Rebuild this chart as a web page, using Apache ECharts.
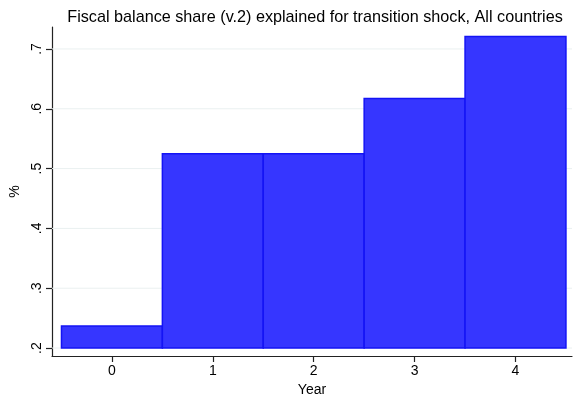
<!DOCTYPE html>
<html><head><meta charset="utf-8">
<script src="https://cdn.jsdelivr.net/npm/echarts@6/dist/echarts.min.js"></script>
<style>html,body{margin:0;padding:0;background:#fff}#c{width:578px;height:402px}</style>
</head><body><div id="c"></div>
<script>
const years = [0, 1, 2, 3, 4];
const shares = [0.237, 0.525, 0.525, 0.617, 0.721];
const yTicks = [0.2, 0.3, 0.4, 0.5, 0.6, 0.7];
const yTickLabels = ['.2', '.3', '.4', '.5', '.6', '.7'];
const baseValue = 0.2;

const chart = echarts.init(document.getElementById('c'));
const font = 'Liberation Sans, Arial, sans-serif';
chart.setOption({
  animation: false,
  title: {
    text: 'Fiscal balance share (v.2) explained for transition shock, All countries',
    left: 310, top: 5, textAlign: 'center',
    textStyle: { fontFamily: font, fontSize: 16.2, fontWeight: 'normal', color: '#000' }
  },
  grid: { left: 52, right: 6, top: 27, bottom: 45 },
  xAxis: {
    type: 'value', min: -0.594, max: 4.56,
    name: 'Year', nameLocation: 'middle', nameGap: 27,
    nameTextStyle: { fontFamily: font, fontSize: 14, color: '#000' },
    axisLine: { onZero: false, lineStyle: { color: '#222', width: 1.2 } },
    axisTick: { customValues: years, length: 6, lineStyle: { color: '#222', width: 1.2 } },
    axisLabel: { customValues: years, fontFamily: font, fontSize: 14, color: '#000', margin: 8 },
    splitLine: { show: false }
  },
  yAxis: {
    type: 'value', min: 0.1867, max: 0.7367,
    name: '%', nameLocation: 'middle', nameGap: 30, nameRotate: 90,
    nameTextStyle: { fontFamily: font, fontSize: 14, color: '#000' },
    axisLine: { show: true, onZero: false, lineStyle: { color: '#222', width: 1.2 } },
    axisTick: { show: true, customValues: yTicks, length: 6, lineStyle: { color: '#222', width: 1.2 } },
    axisLabel: { customValues: yTicks, rotate: 90, fontFamily: font, fontSize: 14, color: '#000', margin: 8,
      formatter: v => { const i = yTicks.findIndex(t => Math.abs(t - v) < 1e-6); return i >= 0 ? yTickLabels[i] : ''; } },
    splitLine: { show: false }
  },
  series: [
    {
      type: 'custom',
      data: yTicks.map(t => [t]),
      silent: true, z: 1,
      renderItem: (params, api) => {
        const y = api.coord([0, api.value(0)])[1];
        const cs = params.coordSys;
        return { type: 'line', shape: { x1: cs.x, y1: y, x2: cs.x + cs.width, y2: y },
          style: { stroke: '#eaf0f0', lineWidth: 1 } };
      }
    },
    {
      type: 'custom',
      data: years.map((y, i) => [y, shares[i]]),
      z: 2,
      renderItem: (params, api) => {
        const x = api.value(0), v = api.value(1);
        const p0 = api.coord([x - 0.5, v]);
        const p1 = api.coord([x + 0.5, baseValue]);
        return { type: 'rect',
          shape: { x: p0[0], y: p0[1], width: p1[0] - p0[0], height: p1[1] - p0[1] },
          style: { fill: '#3636ff', stroke: '#1414f5', lineWidth: 1.5 } };
      }
    }
  ]
});
</script></body></html>
